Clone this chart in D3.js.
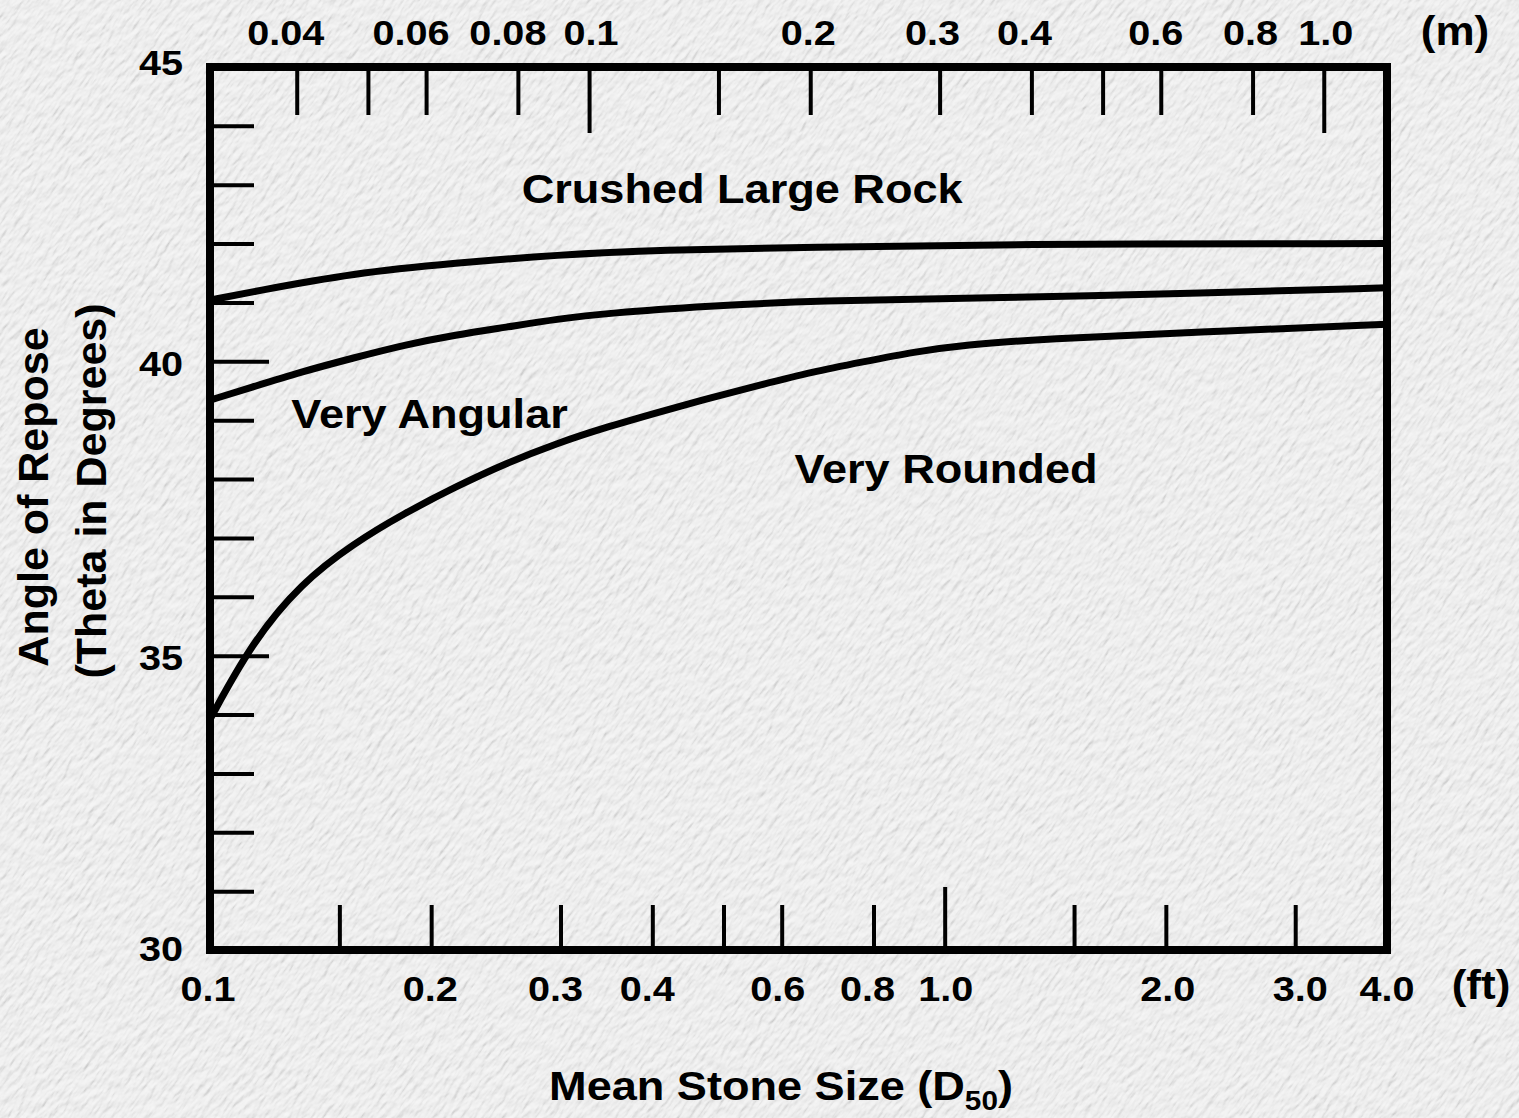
<!DOCTYPE html>
<html>
<head>
<meta charset="utf-8">
<script src="https://cdn.jsdelivr.net/npm/d3@7"></script>
<style>
  html, body { margin: 0; padding: 0; background: #ececec; }
  svg { display: block; }
  text { font-family: "Liberation Sans", Arial, Helvetica, sans-serif; font-weight: bold; fill: #000; }
</style>
</head>
<body>
<svg id="chart" width="1519" height="1118"></svg>
<script>
// Mean stone size D50 (ft) vs. angle of repose (degrees) for three rock shapes
const crushedFt  = [0.10, 0.114, 0.157, 0.216, 0.297, 0.409, 0.660, 1.19, 4.0];
const crushedDeg = [41.04, 41.18, 41.50, 41.67, 41.81, 41.89, 41.94, 41.99, 42.0];

const angularFt  = [0.10, 0.114, 0.133, 0.157, 0.184, 0.216, 0.253, 0.297, 0.348, 0.479, 0.660, 1.19, 2.25, 4.0];
const angularDeg = [39.34, 39.56, 39.82, 40.06, 40.28, 40.45, 40.58, 40.72, 40.82, 40.94, 41.03, 41.08, 41.16, 41.25];

const roundedFt  = [0.10, 0.114, 0.133, 0.157, 0.184, 0.216, 0.253, 0.297, 0.348, 0.409, 0.479, 0.562, 0.660, 0.774, 0.908, 1.066, 1.36, 2.25, 4.0];
const roundedDeg = [33.92, 35.22, 36.23, 36.91, 37.42, 37.87, 38.27, 38.61, 38.89, 39.14, 39.38, 39.60, 39.82, 39.99, 40.16, 40.28, 40.38, 40.50, 40.63];

// Axis ticks
const ftTicks     = [0.15, 0.2, 0.3, 0.4, 0.5, 0.6, 0.8, 1.0, 1.5, 2.0, 3.0];
const ftLabels    = [0.1, 0.2, 0.3, 0.4, 0.6, 0.8, 1.0, 2.0, 3.0, 4.0];
const mTicks      = [0.04, 0.05, 0.06, 0.08, 0.1, 0.15, 0.2, 0.3, 0.4, 0.5, 0.6, 0.8, 1.0];
const mLabels     = [0.04, 0.06, 0.08, 0.1, 0.2, 0.3, 0.4, 0.6, 0.8, 1.0];
const degTicks    = d3.range(30, 46);
const degLabels   = [30, 35, 40, 45];

const regionLabels = ["Crushed Large Rock", "Very Angular", "Very Rounded"];

const FT_PER_M = 3.2808;

(function draw() {
  const svg = d3.select("#chart");
  const W = 1519, H = 1118;
  const mLeft = 210, mRight = 1387, mTop = 67, mBottom = 950;

  // Hand-lettered label nudges (px) along the axes
  const ftLabelNudge = [-2, -1, -5, -5, -4, -6, 1, 2, 5, 0];
  const mLabelNudge  = [-11, -15, -10, 2, -2, -7, -7, -5, -2, 2];
  const degLabelNudge = [-2, 1, 2, -5];

  // Paper texture background
  const defs = svg.append("defs");
  const f = defs.append("filter").attr("id", "paper")
    .attr("filterUnits", "userSpaceOnUse")
    .attr("x", -700).attr("y", -700).attr("width", 3000).attr("height", 2600);
  f.append("feTurbulence").attr("type", "fractalNoise")
    .attr("baseFrequency", "0.22 0.07").attr("numOctaves", 4).attr("seed", 11).attr("result", "noise");
  const light = f.append("feDiffuseLighting").attr("in", "noise")
    .attr("surfaceScale", 1.3).attr("diffuseConstant", 1.05).attr("lighting-color", "#f1f1f1");
  light.append("feDistantLight").attr("azimuth", 225).attr("elevation", 68);

  svg.append("g")
    .attr("transform", `rotate(35 ${W / 2} ${H / 2})`)
    .append("rect")
    .attr("x", -700).attr("y", -700).attr("width", 3000).attr("height", 2600)
    .attr("filter", "url(#paper)");

  // Scales
  const x = d3.scaleLog().domain([0.1, 4.0]).range([mLeft, mRight]);
  const xm = d3.scaleLog().domain([0.1 / FT_PER_M, 4.0 / FT_PER_M]).range([mLeft, mRight]);
  const y = d3.scaleLinear().domain([30, 45]).range([mBottom, mTop]);

  const STRETCH = "scale(1.1,1)";
  const fmt1 = v => v === 1 ? "1.0" : String(v);

  // Curves (smoothed B-spline through the read points)
  const line = d3.line().x(d => x(d[0])).y(d => y(d[1])).curve(d3.curveBasis);
  const series = [
    d3.zip(crushedFt, crushedDeg),
    d3.zip(angularFt, angularDeg),
    d3.zip(roundedFt, roundedDeg)
  ];
  svg.append("g").selectAll("path").data(series).join("path")
    .attr("d", line)
    .attr("fill", "none").attr("stroke", "#000").attr("stroke-width", 7)
    .attr("stroke-linecap", "butt");

  // Bottom axis (ft), ticks pointing inward
  const gx = svg.append("g").attr("transform", `translate(0,${mBottom})`)
    .call(d3.axisBottom(x).tickValues(ftTicks).tickSize(-45).tickFormat(() => ""));
  gx.select(".domain").remove();
  gx.selectAll(".tick line").attr("stroke", "#000").attr("stroke-width", 4)
    .attr("y2", d => d === 1.0 ? -63 : -45);
  svg.append("g").selectAll("text").data(ftLabels).join("text")
    .attr("transform", (d, i) => `translate(${x(d) + ftLabelNudge[i]},${mBottom + 51}) ${STRETCH}`)
    .attr("text-anchor", "middle").attr("font-size", 36)
    .text(d => d.toFixed(1));
  svg.append("text")
    .attr("transform", `translate(1481,${mBottom + 49}) ${STRETCH}`)
    .attr("text-anchor", "middle").attr("font-size", 40).text("(ft)");

  // Top axis (m)
  const gt = svg.append("g").attr("transform", `translate(0,${mTop})`)
    .call(d3.axisTop(xm).tickValues(mTicks).tickSize(-48).tickFormat(() => ""));
  gt.select(".domain").remove();
  gt.selectAll(".tick line").attr("stroke", "#000").attr("stroke-width", 4)
    .attr("y2", d => (d === 0.1 || d === 1.0) ? 66 : 48);
  svg.append("g").selectAll("text").data(mLabels).join("text")
    .attr("transform", (d, i) => `translate(${xm(d) + mLabelNudge[i]},45) ${STRETCH}`)
    .attr("text-anchor", "middle").attr("font-size", 36)
    .text(fmt1);
  svg.append("text")
    .attr("transform", `translate(1455,45) ${STRETCH}`)
    .attr("text-anchor", "middle").attr("font-size", 40).text("(m)");

  // Left axis (degrees)
  const gy = svg.append("g").attr("transform", `translate(${mLeft},0)`)
    .call(d3.axisLeft(y).tickValues(degTicks).tickSize(-44).tickFormat(() => ""));
  gy.select(".domain").remove();
  gy.selectAll(".tick line").attr("stroke", "#000").attr("stroke-width", 4)
    .attr("x2", d => (d === 35 || d === 40) ? 59 : 44);
  svg.append("g").selectAll("text").data(degLabels).join("text")
    .attr("transform", (d, i) => `translate(${mLeft - 27},${y(d) + 13 + degLabelNudge[i]}) ${STRETCH}`)
    .attr("text-anchor", "end").attr("font-size", 36)
    .text(d => d);

  // Frame
  svg.append("rect")
    .attr("x", mLeft).attr("y", mTop).attr("width", mRight - mLeft).attr("height", mBottom - mTop)
    .attr("fill", "none").attr("stroke", "#000").attr("stroke-width", 8);

  // Region labels, anchored in data coordinates (ft, degrees)
  const labelAnchors = [[0.53, 42.69], [0.199, 38.87], [1.004, 37.93]];
  svg.append("g").selectAll("text").data(regionLabels).join("text")
    .attr("transform", (d, i) => `translate(${x(labelAnchors[i][0])},${y(labelAnchors[i][1])}) ${STRETCH}`)
    .attr("text-anchor", "middle").attr("font-size", 41)
    .text(d => d);

  // Axis titles
  const xt = svg.append("text")
    .attr("transform", `translate(781,1100) ${STRETCH}`)
    .attr("text-anchor", "middle").attr("font-size", 41);
  xt.append("tspan").text("Mean Stone Size (D");
  xt.append("tspan").attr("font-size", 27).attr("dy", 10).text("50");
  xt.append("tspan").attr("dy", -10).text(")");

  svg.append("text")
    .attr("transform", "translate(48,497) rotate(-90)")
    .attr("text-anchor", "middle").attr("font-size", 43).text("Angle of Repose");
  svg.append("text")
    .attr("transform", "translate(106,491) rotate(-90)")
    .attr("text-anchor", "middle").attr("font-size", 43).text("(Theta in Degrees)");
})();
</script>
</body>
</html>
